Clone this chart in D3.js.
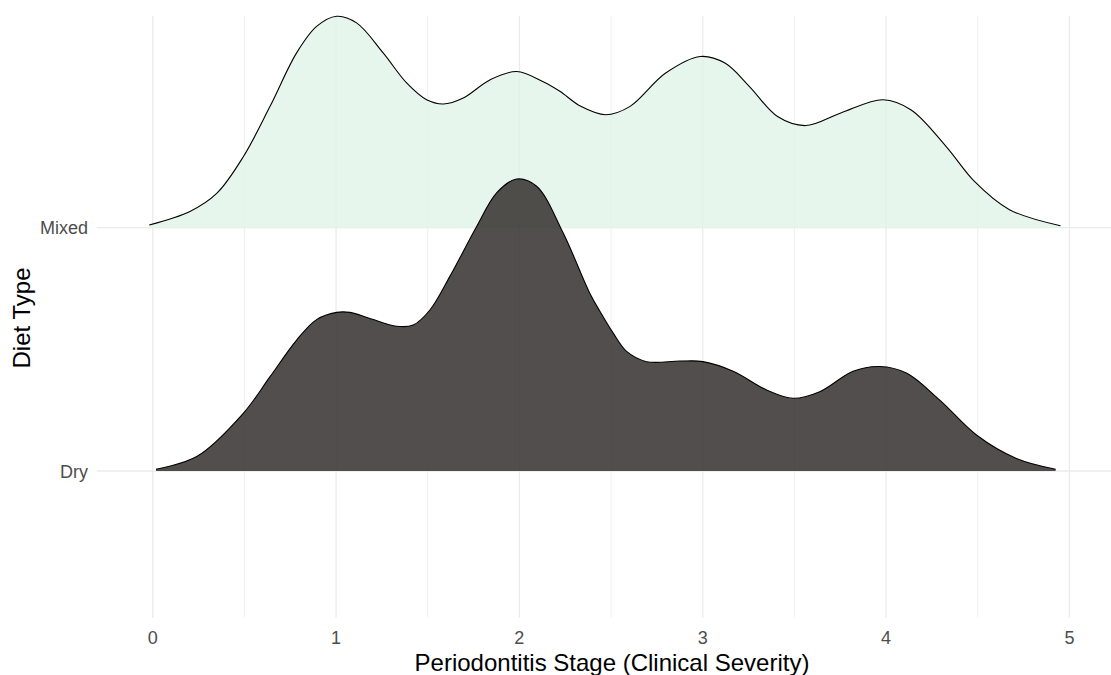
<!DOCTYPE html>
<html>
<head>
<meta charset="utf-8">
<script src="https://cdn.jsdelivr.net/npm/d3@7"></script>
<style>
  html, body { margin: 0; padding: 0; background: #ffffff; }
  svg { display: block; }
</style>
</head>
<body>
<svg id="chart" width="1111" height="675"></svg>
<script>
// ---- Data ----
const dietTypes = ["Dry", "Mixed"];
const xTicks = [0, 1, 2, 3, 4, 5];

// Density curves: stage values and density estimates
const mixedStage = [-0.019, 0.203, 0.349, 0.494, 0.640, 0.785, 0.894, 1.003, 1.112, 1.257, 1.385, 1.494, 1.585, 1.694, 1.839, 1.985, 2.130, 2.221, 2.335, 2.470, 2.604, 2.796, 2.987, 3.121, 3.255, 3.408, 3.562, 3.753, 3.984, 4.137, 4.328, 4.482, 4.673, 4.951];
const mixedDensity = [0.0045, 0.027, 0.057, 0.118, 0.202, 0.291, 0.335, 0.352, 0.341, 0.291, 0.241, 0.213, 0.206, 0.216, 0.246, 0.260, 0.243, 0.227, 0.202, 0.188, 0.202, 0.257, 0.285, 0.274, 0.235, 0.185, 0.170, 0.191, 0.213, 0.196, 0.135, 0.077, 0.030, 0.0033];

const dryStage = [0.018, 0.240, 0.494, 0.640, 0.785, 0.894, 1.003, 1.076, 1.185, 1.330, 1.421, 1.512, 1.621, 1.767, 1.876, 1.985, 2.094, 2.239, 2.384, 2.439, 2.511, 2.585, 2.694, 2.876, 3.002, 3.166, 3.348, 3.493, 3.638, 3.820, 3.966, 4.111, 4.293, 4.493, 4.711, 4.925];
const dryDensity = [0.003, 0.024, 0.096, 0.157, 0.218, 0.252, 0.264, 0.264, 0.254, 0.241, 0.243, 0.268, 0.324, 0.407, 0.463, 0.486, 0.474, 0.396, 0.296, 0.266, 0.230, 0.199, 0.182, 0.183, 0.182, 0.166, 0.135, 0.121, 0.132, 0.166, 0.174, 0.163, 0.118, 0.060, 0.021, 0.003];

const ridgeScale = 1.2;

// ---- Layout ----
const svg = d3.select("#chart");
const panel = { left: 96.7, right: 1111, top: 16, bottom: 617.7 };

const x = d3.scaleLinear().domain([0, 5]).range([152.7, 1069.4]);
// discrete rows placed on a continuous position scale (Dry = 1, Mixed = 2)
const yPos = d3.scaleLinear().domain([1, 2]).range([471, 227.7]);
const rowIndex = d => dietTypes.indexOf(d) + 1;
const step = yPos(1) - yPos(2);
const maxD = d3.max([...mixedDensity, ...dryDensity]);
const h = d3.scaleLinear().domain([0, maxD]).range([0, ridgeScale * step]);

// ---- Grid ----
const grid = svg.append("g");
const minorTicks = d3.range(0.5, 5, 1);
grid.selectAll("line.minor").data(minorTicks).join("line")
  .attr("x1", d => x(d)).attr("x2", d => x(d))
  .attr("y1", panel.top).attr("y2", panel.bottom)
  .attr("stroke", "#ebebeb").attr("stroke-width", 0.8);
grid.selectAll("line.major").data(xTicks).join("line")
  .attr("x1", d => x(d)).attr("x2", d => x(d))
  .attr("y1", panel.top).attr("y2", panel.bottom)
  .attr("stroke", "#ebebeb").attr("stroke-width", 1.3);
grid.selectAll("line.ymajor").data(dietTypes).join("line")
  .attr("x1", panel.left).attr("x2", panel.right)
  .attr("y1", d => yPos(rowIndex(d))).attr("y2", d => yPos(rowIndex(d)))
  .attr("stroke", "#ebebeb").attr("stroke-width", 1.3);

// ---- Ridges ----
const series = [
  { name: "Mixed", stage: mixedStage, dens: mixedDensity, fill: "rgb(224,244,231)", op: 0.8 },
  { name: "Dry", stage: dryStage, dens: dryDensity, fill: "rgb(52,47,46)", op: 0.85 }
];

const curve = d3.curveCatmullRom.alpha(0.5);
series.forEach(s => {
  const base = yPos(rowIndex(s.name));
  const pts = s.stage.map((v, i) => [v, s.dens[i]]);
  const area = d3.area()
    .x(d => x(d[0]))
    .y0(base)
    .y1(d => base - h(d[1]))
    .curve(curve);
  const line = d3.line()
    .x(d => x(d[0]))
    .y(d => base - h(d[1]))
    .curve(curve);
  svg.append("path").attr("d", area(pts))
    .attr("fill", s.fill).attr("fill-opacity", s.op).attr("stroke", "none");
  svg.append("path").attr("d", line(pts))
    .attr("fill", "none").attr("stroke", "#000000").attr("stroke-width", 1.1);
});

// ---- Axes text ----
const font = "'Liberation Sans', Arial, sans-serif";
svg.append("g").selectAll("text").data(xTicks).join("text")
  .attr("x", d => x(d)).attr("y", 644)
  .attr("text-anchor", "middle")
  .attr("font-family", font).attr("font-size", 18).attr("fill", "#4d4d4d")
  .text(d => d);

svg.append("g").selectAll("text").data(dietTypes).join("text")
  .attr("x", 88).attr("y", d => yPos(rowIndex(d)) + 6.5)
  .attr("text-anchor", "end")
  .attr("font-family", font).attr("font-size", 18).attr("fill", "#4d4d4d")
  .text(d => d);

svg.append("text")
  .attr("x", 612).attr("y", 671)
  .attr("text-anchor", "middle")
  .attr("font-family", font).attr("font-size", 24).attr("fill", "#000000")
  .text("Periodontitis Stage (Clinical Severity)");

svg.append("text")
  .attr("transform", "translate(30,318) rotate(-90)")
  .attr("text-anchor", "middle")
  .attr("font-family", font).attr("font-size", 24).attr("fill", "#000000")
  .text("Diet Type");
</script>
</body>
</html>
